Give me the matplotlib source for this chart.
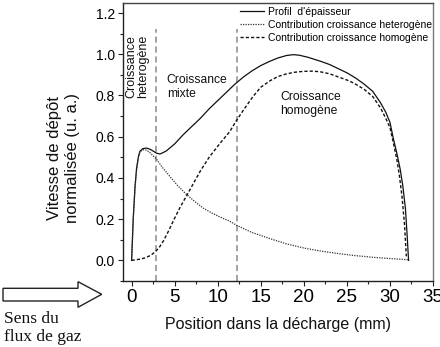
import matplotlib
matplotlib.use("Agg")
import matplotlib.pyplot as plt
from matplotlib.patches import Polygon
from matplotlib.ticker import MultipleLocator

plt.rcParams['font.family'] = ['Liberation Sans', 'DejaVu Sans']

# ---- data ----
x_profil = [0, 0.19, 0.4, 0.58, 0.8, 0.97, 1.3, 1.74, 2.2, 2.9, 3.3, 4.0, 5.0, 6.0, 7.0,
            8.0, 9.0, 10.0, 11.0, 12.0, 13.0, 14.0, 15.0, 16.0, 17.0, 18.0, 18.8, 19.5,
            20.5, 22.0, 23.0, 24.0, 25.0, 26.0, 27.0, 28.0, 28.9, 29.5, 30.0, 30.4, 30.8,
            31.2, 31.5, 31.8, 32.0, 32.16]
y_profil = [0, 0.205, 0.36, 0.448, 0.505, 0.53, 0.542, 0.545, 0.538, 0.52, 0.516, 0.53,
            0.565, 0.61, 0.65, 0.69, 0.735, 0.775, 0.815, 0.855, 0.89, 0.92, 0.945, 0.965,
            0.982, 0.994, 0.998, 0.995, 0.985, 0.965, 0.95, 0.93, 0.91, 0.885, 0.855, 0.82,
            0.765, 0.72, 0.67, 0.59, 0.52, 0.44, 0.36, 0.25, 0.12, 0.0]

x_hetero = [0, 0.19, 0.4, 0.58, 0.8, 0.97, 1.3, 1.74, 2.2, 2.9, 3.5, 4.45, 5.3, 6.2, 7.2,
            8.3, 9.3, 10.27, 11.4, 12.2, 14.0, 16.1, 18.0, 20.0, 22.0, 24.0, 25.8, 28.0,
            30.0, 32.16]
y_hetero = [0, 0.2, 0.355, 0.44, 0.5, 0.525, 0.537, 0.535, 0.52, 0.49, 0.455, 0.407,
            0.365, 0.327, 0.29, 0.254, 0.23, 0.21, 0.19, 0.17, 0.135, 0.105, 0.08, 0.06,
            0.045, 0.033, 0.024, 0.015, 0.009, 0.003]

x_homo = [0, 0.5, 1.0, 1.55, 2.2, 2.7, 3.2, 3.7, 4.26, 5.0, 5.6, 6.2, 7.0, 8.0, 9.0,
          10.27, 11.4, 12.2, 13.0, 14.1, 15.0, 16.1, 17.0, 18.0, 19.0, 20.0, 21.0, 21.9,
          23.0, 24.0, 25.0, 25.8, 27.0, 28.0, 28.9, 29.5, 30.0, 30.4, 30.8, 31.1, 31.4,
          31.7, 31.9]
y_homo = [0, 0.003, 0.006, 0.012, 0.024, 0.04, 0.062, 0.095, 0.14, 0.205, 0.255, 0.30,
          0.36, 0.435, 0.50, 0.568, 0.625, 0.68, 0.73, 0.795, 0.84, 0.872, 0.892, 0.905,
          0.913, 0.917, 0.918, 0.915, 0.905, 0.89, 0.875, 0.86, 0.83, 0.795, 0.74, 0.69,
          0.645, 0.57, 0.49, 0.41, 0.31, 0.17, 0.02]

boundaries = [2.8, 12.2]
boundary_top = 1.12

labels = ["Profil  d'épaisseur",
          "Contribution croissance heterogène",
          "Contribution croissance homogène"]

# ---- figure ----
fig = plt.figure(figsize=(4.4, 3.47), dpi=100)
ax = fig.add_axes([123/440, 1 - 281/347, 310/440, 278.3/347])

ax.set_xlim(-1.0, 35)
ax.set_ylim(-0.1, 1.25)

for xb in boundaries:
    ax.plot([xb, xb], [-0.1, boundary_top], color='#8a8a8a', lw=1.1,
            dashes=(4, 2.5), zorder=1)

l1, = ax.plot(x_profil, y_profil, color='#111111', lw=0.9, label=labels[0])
l2, = ax.plot(x_hetero, y_hetero, color='#333333', lw=0.9, linestyle=(0, (1, 1)),
              label=labels[1])
l3, = ax.plot(x_homo, y_homo, color='#111111', lw=1.0, linestyle=(0, (2.3, 1.5)),
              label=labels[2])

ax.xaxis.set_major_locator(MultipleLocator(5))
ax.xaxis.set_minor_locator(MultipleLocator(2.5))
ax.yaxis.set_major_locator(MultipleLocator(0.2))
ax.yaxis.set_minor_locator(MultipleLocator(0.1))
ax.set_xticks([0, 5, 10, 15, 20, 25, 30, 35])
ax.set_yticks([0.0, 0.2, 0.4, 0.6, 0.8, 1.0, 1.2])
ax.set_yticklabels(['0.0', '0.2', '0.4', '0.6', '0.8', '1.0', '1.2'])

ax.tick_params(axis='both', which='major', direction='out', length=3.6, width=0.8,
               color='#222222')
ax.tick_params(axis='both', which='minor', direction='out', length=2.0, width=0.8,
               color='#222222')
ax.tick_params(axis='x', which='major', labelsize=13.5, pad=2.5)
ax.tick_params(axis='y', which='major', labelsize=10, pad=2.0)
ax.tick_params(top=False, right=False, which='both')

for side in ['left', 'bottom']:
    ax.spines[side].set_color('#222222')
    ax.spines[side].set_linewidth(1.0)
ax.spines['top'].set_color('#444444')
ax.spines['top'].set_linewidth(1.0)
ax.spines['right'].set_color('#777777')
ax.spines['right'].set_linewidth(1.0)

leg = ax.legend(handles=[l1, l2, l3], loc='upper left',
                bbox_to_anchor=(0.378, 0.985), frameon=False, fontsize=7.5,
                handlelength=2.3, handletextpad=0.4, labelspacing=0.3,
                borderpad=0, borderaxespad=0)

# annotations
ax.text(0.67, 1.095, "Croissance\nheterogène", rotation=90, ha='center', va='top',
        multialignment='center', fontsize=9, linespacing=0.95, color='#111111')
ax.text(4.07, 0.84, "Croissance\nmixte", ha='left', va='center', fontsize=8.7,
        linespacing=1.2, color='#111111')
ax.text(17.24, 0.759, "Croissance\nhomogène", ha='left', va='center', fontsize=8.7,
        linespacing=1.2, color='#111111')

# axis labels
fig.text(63/440, 1 - 158/347, "Vitesse de dépôt\nnormalisée (u. a.)", rotation=90,
         ha='center', va='center', multialignment='center', fontsize=12,
         linespacing=1.25, color='#111111')
fig.text(278/440, 1 - 325/347, "Position dans la décharge (mm)", ha='center',
         va='center', fontsize=11.5, color='#111111')

# hollow arrow (figure pixels -> fraction)
W, H = 440.0, 347.0
pts = [(3, 288.3), (78, 288.3), (78, 281.7), (101.7, 294.3), (78, 307.3), (78, 301),
       (3, 301)]
arrow = Polygon([(px / W, 1 - py / H) for px, py in pts], closed=True,
                transform=fig.transFigure, facecolor='white', edgecolor='#222222',
                lw=1.0)
fig.add_artist(arrow)

fig.text(4/440, 2/347, "Sens du\nflux de gaz", ha='left', va='bottom',
         fontsize=12.5, family=['Liberation Serif', 'DejaVu Serif'], linespacing=1.2,
         color='#111111')

fig.savefig("out.png", dpi=100)
